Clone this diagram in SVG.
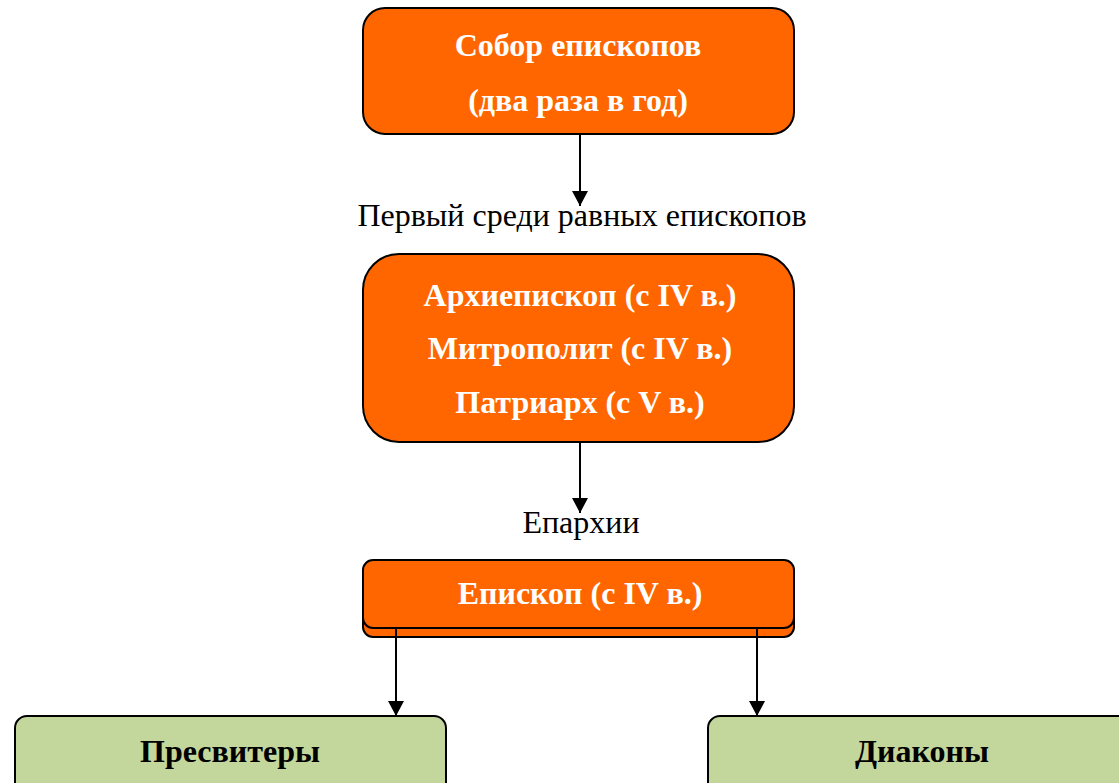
<svg xmlns="http://www.w3.org/2000/svg" width="1119" height="783" viewBox="0 0 1119 783">
<style>
.org{fill:#FF6600;stroke:#000;stroke-width:2}
.grn{fill:#C3D69B;stroke:#000;stroke-width:2}
.wt{font-family:"Liberation Serif","Times New Roman",serif;font-weight:bold;font-size:32px;fill:#fff;text-anchor:middle}
.bk{font-family:"Liberation Serif","Times New Roman",serif;font-weight:bold;font-size:32px;fill:#000;text-anchor:middle}
.lb{font-family:"Liberation Serif","Times New Roman",serif;font-size:32px;fill:#000;text-anchor:middle}
.con{stroke:#000;stroke-width:2;fill:none;marker-end:url(#ah)}
</style>
<defs>
<marker id="ah" markerUnits="userSpaceOnUse" markerWidth="16" markerHeight="16" refX="15" refY="8" orient="auto">
<path d="M0,0 L15,8 L0,16 Z" fill="#000"/>
</marker>
</defs>
<rect width="1119" height="783" fill="#fff"/>
<g id="sobor">
<rect class="org" x="363" y="8" width="431" height="126" rx="22"/>
<text class="wt" x="578" y="56">Собор епископов</text>
<text class="wt" x="578" y="111">(два раза в год)</text>
</g>
<g id="perviy">
<text class="lb" x="582" y="226">Первый среди равных епископов</text>
</g>
<g id="arhiepiskop">
<rect class="org" x="363" y="254" width="431" height="188" rx="36"/>
<text class="wt" x="580" y="306">Архиепископ (с IV в.)</text>
<text class="wt" x="580" y="359">Митрополит (с IV в.)</text>
<text class="wt" x="580" y="413">Патриарх (с V в.)</text>
</g>
<g id="eparhii">
<text class="lb" x="581" y="533">Епархии</text>
</g>
<g id="episkop">
<rect class="org" x="363" y="567" width="431" height="70" rx="10"/>
<rect class="org" x="363" y="560" width="431" height="68" rx="10"/>
<text class="wt" x="580" y="604">Епископ (с IV в.)</text>
</g>
<g id="presvitery">
<rect class="grn" x="15" y="716" width="431" height="80" rx="12"/>
<text class="bk" x="230" y="762">Пресвитеры</text>
</g>
<g id="diakony">
<rect class="grn" x="708" y="716" width="431" height="80" rx="12"/>
<text class="bk" x="922" y="762">Диаконы</text>
</g>
<g id="connectors">
<line class="con" x1="580" y1="134" x2="580" y2="206"/>
<line class="con" x1="580" y1="442" x2="580" y2="513"/>
<line class="con" x1="396" y1="628" x2="396" y2="716"/>
<line class="con" x1="757" y1="628" x2="757" y2="716"/>
</g>
</svg>
